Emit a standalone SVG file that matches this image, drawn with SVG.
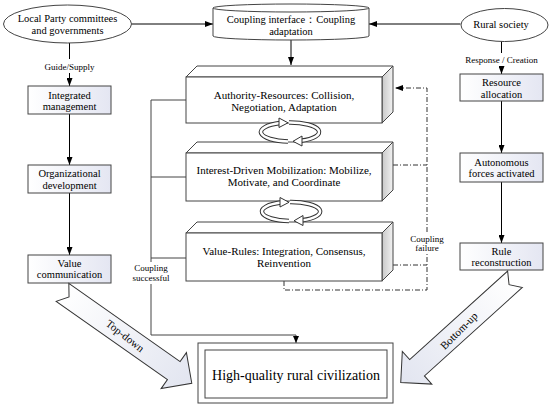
<svg xmlns="http://www.w3.org/2000/svg" width="550" height="409" viewBox="0 0 550 409" font-family="'Liberation Serif', 'Times New Roman', serif">
<defs>
<linearGradient id="boxg" x1="0" y1="0" x2="1" y2="0"><stop offset="0" stop-color="#ffffff"/><stop offset="1" stop-color="#e4e6f2"/></linearGradient>
<linearGradient id="sideg" x1="0" y1="0" x2="1" y2="0"><stop offset="0" stop-color="#c8c8c8"/><stop offset="1" stop-color="#f2f2f2"/></linearGradient>
<linearGradient id="bigg" x1="0" y1="0" x2="1" y2="0"><stop offset="0" stop-color="#ffffff"/><stop offset="1" stop-color="#e2e5f0"/></linearGradient>
<marker id="ah" markerWidth="8" markerHeight="6" refX="8" refY="3" orient="auto" markerUnits="userSpaceOnUse"><path d="M0,0 L8,3 L0,6 z" fill="#000"/></marker>
<marker id="ah2" markerWidth="7" markerHeight="6" refX="7" refY="3" orient="auto" markerUnits="userSpaceOnUse"><path d="M0,0 L7,3 L0,6 z" fill="#000"/></marker>
</defs>
<style>
text{font-family:'Liberation Serif','Times New Roman',serif;fill:#000;text-anchor:middle}
.t11{font-size:10.5px}
.t10{font-size:11px}
.t9{font-size:9px}
.box{fill:url(#boxg);stroke:#444;stroke-width:1}
.shape{fill:#fff;stroke:#444;stroke-width:1}
.side{fill:url(#sideg);stroke:#444;stroke-width:1}
.ln{fill:none;stroke:#000;stroke-width:1}
.gl{fill:none;stroke:#444;stroke-width:1}
.dd{fill:none;stroke:#333;stroke-width:1;stroke-dasharray:5 2 1 2}
.big{fill:url(#bigg);stroke:#333;stroke-width:1}
.bandO{fill:none;stroke:#333;stroke-width:4.5}
.bandI{fill:none;stroke:#fff;stroke-width:2.5}
.head{fill:#fff;stroke:#333;stroke-width:1}
</style>

<g id="connectors">
<path class="ln" d="M131.5,24 H213" marker-end="url(#ah)"/>
<path class="ln" d="M460.5,24 H369" marker-end="url(#ah)"/>
<path class="ln" d="M291,40 V65" marker-end="url(#ah)"/>
<path class="ln" d="M69.5,43 V86" marker-end="url(#ah)"/>
<path class="ln" d="M69.5,114 V165" marker-end="url(#ah)"/>
<path class="ln" d="M69.5,193 V255" marker-end="url(#ah)"/>
<path class="ln" d="M501.5,41 V74" marker-end="url(#ah)"/>
<path class="ln" d="M501.5,101 V153" marker-end="url(#ah)"/>
<path class="ln" d="M501.5,182 V243" marker-end="url(#ah)"/>
<path class="gl" d="M186,100 H151 V335 H296 V343" marker-end="url(#ah2)"/>
<path class="gl" d="M151,177 H186 M151,258 H186"/>
<path class="dd" d="M284,281 V290 H427 V88 H395" marker-end="url(#ah)"/>
<path class="dd" d="M393,165 H427 M393,265 H427"/>
</g>

<g id="labels">
<rect x="44" y="59" width="51" height="14" fill="#fff"/>
<text class="t9" x="69.5" y="70">Guide/Supply</text>
<rect x="464" y="53" width="75" height="13" fill="#fff"/>
<text class="t9" x="501.5" y="63">Response / Creation</text>
<rect x="132" y="262" width="38" height="22" fill="#fff"/>
<text class="t9" x="151" y="271">Coupling</text>
<text class="t9" x="151" y="281">successful</text>
<rect x="409" y="232" width="37" height="21" fill="#fff"/>
<text class="t9" x="427" y="242">Coupling</text>
<text class="t9" x="427" y="251">failure</text>
</g>

<g id="local-party">
<ellipse class="shape" cx="67.5" cy="24" rx="64" ry="19"/>
<text class="t11" x="67.5" y="22">Local Party committees</text>
<text class="t11" x="67.5" y="34">and governments</text>
</g>

<g id="coupling-interface">
<path class="shape" d="M213,8 V36 A78,4 0 0 0 369,36 V8"/>
<ellipse class="shape" cx="291" cy="8" rx="78" ry="4"/>
<text class="t11" x="291" y="23">Coupling interface：Coupling</text>
<text class="t11" x="291" y="35">adaptation</text>
</g>

<g id="rural-society">
<ellipse class="shape" cx="504.5" cy="25" rx="43.5" ry="16.5"/>
<text class="t11" x="501" y="28">Rural society</text>
</g>

<g id="integrated-management">
<rect class="box" x="28" y="86" width="83" height="28"/>
<text class="t11" x="69.5" y="98.5">Integrated</text>
<text class="t11" x="69.5" y="110">management</text>
</g>

<g id="organizational-development">
<rect class="box" x="28" y="165" width="83" height="28"/>
<text class="t11" x="69.5" y="177">Organizational</text>
<text class="t11" x="69.5" y="188.5">development</text>
</g>

<g id="value-communication">
<rect class="box" x="28" y="255" width="83" height="28"/>
<text class="t11" x="69.5" y="266.5">Value</text>
<text class="t11" x="69.5" y="278">communication</text>
</g>

<g id="resource-allocation">
<rect class="box" x="460" y="74" width="83" height="27"/>
<text class="t11" x="501.5" y="86">Resource</text>
<text class="t11" x="501.5" y="97.5">allocation</text>
</g>

<g id="autonomous-forces">
<rect class="box" x="460" y="153" width="83" height="29"/>
<text class="t11" x="501.5" y="165.5">Autonomous</text>
<text class="t11" x="501.5" y="177">forces activated</text>
</g>

<g id="rule-reconstruction">
<rect class="box" x="460" y="243" width="83" height="27"/>
<text class="t11" x="501.5" y="254.5">Rule</text>
<text class="t11" x="501.5" y="266">reconstruction</text>
</g>

<g id="authority-resources">
<polygon class="shape" points="186,77 197,66 393,66 382,77"/>
<polygon class="side" points="382,77 393,66 393,112 382,123"/>
<rect class="shape" x="186" y="77" width="196" height="46"/>
<text class="t10" x="284" y="98.5">Authority-Resources: Collision,</text>
<text class="t10" x="284" y="110.5">Negotiation, Adaptation</text>
</g>

<g id="interest-driven">
<polygon class="shape" points="186,153 197,142 393,142 382,153"/>
<polygon class="side" points="382,153 393,142 393,190 382,201"/>
<rect class="shape" x="186" y="153" width="196" height="48"/>
<text class="t10" x="284" y="173.5">Interest-Driven Mobilization: Mobilize,</text>
<text class="t10" x="284" y="185.5">Motivate, and Coordinate</text>
</g>

<g id="value-rules">
<polygon class="shape" points="186,233 197,222 393,222 382,233"/>
<polygon class="side" points="382,233 393,222 393,270 382,281"/>
<rect class="shape" x="186" y="233" width="196" height="48"/>
<text class="t10" x="284" y="254.5">Value-Rules: Integration, Consensus,</text>
<text class="t10" x="284" y="266.5">Reinvention</text>
</g>

<g id="cycle-1" transform="translate(290,132)">
<path class="bandO" d="M-2,9.5 A29,9.5 0 0 1 -10,-8.9"/>
<path class="bandI" d="M-2,9.5 A29,9.5 0 0 1 -10,-8.9"/>
<polygon class="head" points="-11,-14 -2,-9.2 -11,-4.5"/>
<path class="bandO" d="M-1,-9.5 A29,9.5 0 0 1 11,8.8"/>
<path class="bandI" d="M-1,-9.5 A29,9.5 0 0 1 11,8.8"/>
<polygon class="head" points="12,4 3,9.3 12,14"/>
</g>

<g id="cycle-2" transform="translate(291,211.5)">
<path class="bandO" d="M-2,9.5 A29,9.5 0 0 1 -10,-8.9"/>
<path class="bandI" d="M-2,9.5 A29,9.5 0 0 1 -10,-8.9"/>
<polygon class="head" points="-11,-14 -2,-9.2 -11,-4.5"/>
<path class="bandO" d="M-1,-9.5 A29,9.5 0 0 1 11,8.8"/>
<path class="bandI" d="M-1,-9.5 A29,9.5 0 0 1 11,8.8"/>
<polygon class="head" points="12,4 3,9.3 12,14"/>
</g>

<g id="top-down">
<polygon class="big" transform="translate(62.5,292.4) rotate(35.1)" points="0,-11 136,-11 136,-22 158,0 136,22 136,11 0,11 8,0"/>
<text class="t10" transform="translate(125,336) rotate(38)" x="0" y="3.5">Top-down</text>
</g>

<g id="bottom-up">
<polygon class="big" transform="translate(515,279.3) rotate(137.9)" points="0,-11 132,-11 132,-22 154,0 132,22 132,11 0,11 8,0"/>
<text class="t10" transform="translate(459,331) rotate(-45)" x="0" y="3.5">Bottom-up</text>
</g>

<g id="high-quality">
<rect class="shape" x="198" y="343" width="195" height="60"/>
<rect class="shape" x="205" y="350" width="182" height="48"/>
<text x="296" y="380" style="font-size:14px">High-quality rural civilization</text>
</g>
</svg>
